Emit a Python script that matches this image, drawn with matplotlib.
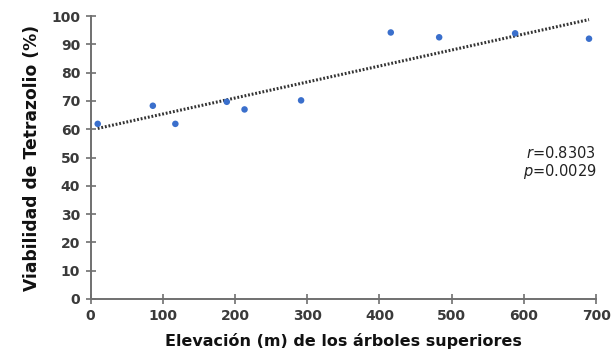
import numpy as np
import matplotlib
matplotlib.use("Agg")
import matplotlib.pyplot as plt

elevation = [9.9, 86.2, 117.4, 188.6, 213.2, 291.5, 415.7, 482.7, 587.9, 690.2]
viability = [61.9, 68.3, 61.9, 69.7, 67.0, 70.2, 94.2, 92.5, 93.9, 92.0]
x_ticks = [0, 100, 200, 300, 400, 500, 600, 700]
y_ticks = [0, 10, 20, 30, 40, 50, 60, 70, 80, 90, 100]
r_text = "0.8303"
p_text = "0.0029"

fig = plt.figure(figsize=(6.12, 3.57), dpi=100)
ax = fig.add_axes([0.148, 0.1625, 0.826, 0.7925])

ax.scatter(elevation, viability, s=22, color="#3a6fcc", zorder=3, edgecolors="none")

coef = np.polyfit(elevation, viability, 1)
xs = np.array([min(elevation), max(elevation)])
ax.plot(xs, np.polyval(coef, xs), color="#333333", linewidth=2.2,
        linestyle=(0, (0.6, 0.6)), zorder=2)

ax.set_xlim(0, 700)
ax.set_ylim(0, 100)
ax.set_xticks(x_ticks)
ax.set_yticks(y_ticks)

for side in ["top", "right"]:
    ax.spines[side].set_visible(False)
for side in ["left", "bottom"]:
    ax.spines[side].set_color("#707070")
    ax.spines[side].set_linewidth(1.4)

ax.tick_params(direction="inout", length=7, width=1.2, color="#707070",
               labelsize=10, labelcolor="#3a3a3a", pad=4)
for lbl in ax.get_xticklabels() + ax.get_yticklabels():
    lbl.set_fontweight("bold")

ax.set_xlabel("Elevación (m) de los árboles superiores", fontsize=11.5,
              fontweight="bold", color="#111111", labelpad=7)
ax.set_ylabel("Viabilidad de Tetrazolio (%)", fontsize=12.3,
              fontweight="bold", color="#111111", labelpad=7)

ax.text(1.0, 0.517, r"$r$=" + r_text, transform=ax.transAxes, ha="right",
        va="center", fontsize=10.5, color="#222222")
ax.text(1.0, 0.45, r"$p$=" + p_text, transform=ax.transAxes, ha="right",
        va="center", fontsize=10.5, color="#222222")

fig.savefig("out.png", dpi=100)
